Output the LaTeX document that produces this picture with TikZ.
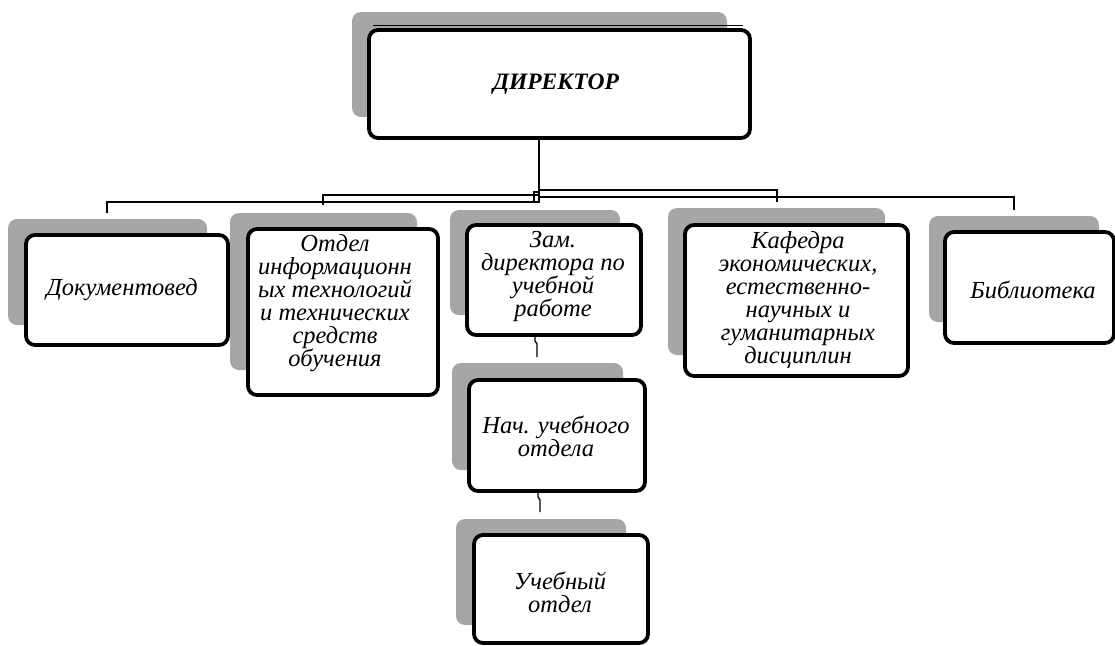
\documentclass[tikz,border=0pt]{standalone}
\usepackage{fontspec}
\setmainfont{Liberation Serif}
\definecolor{shade}{HTML}{A6A6A6}
\tikzset{
  shadowbox/.style={fill=shade, rounded corners=9pt},
  unitbox/.style={draw=black, line width=3.8pt, fill=white, rounded corners=9pt, inner sep=0pt},
  boxtext/.style={align=center, inner sep=0pt, font=\fontsize{24.5}{23}\selectfont\itshape},
  link/.style={draw=black, line width=1.3pt},
}
\begin{document}
\begin{tikzpicture}[x=1pt,y=-1pt]
\useasboundingbox (0,0) rectangle (1115,645);
% shadows
\fill[shadowbox] (352,12) rectangle (727,117);
\fill[shadowbox] (8,219) rectangle (207,325);
\fill[shadowbox] (230,213) rectangle (417,370);
\fill[shadowbox] (450,210) rectangle (620,315);
\fill[shadowbox] (668,208) rectangle (885,355);
\fill[shadowbox] (929,216) rectangle (1099,322);
\fill[shadowbox] (452,363) rectangle (623,470);
\fill[shadowbox] (456,519) rectangle (626,625);
\draw[line width=0.8pt] (373,25) -- (743,25);
% boxes
\node[unitbox, minimum width=381pt, minimum height=108pt] (dir) at (559.5,84) {};
\node[unitbox, minimum width=202pt, minimum height=110pt] (doc) at (127,290) {};
\node[unitbox, minimum width=190pt, minimum height=166pt] (otd) at (343,312) {};
\node[unitbox, minimum width=174pt, minimum height=110pt] (zam) at (554,280) {};
\node[unitbox, minimum width=223pt, minimum height=151pt] (kaf) at (796.5,300.5) {};
\node[unitbox, minimum width=169pt, minimum height=111pt] (bib) at (1029.5,287.5) {};
\node[unitbox, minimum width=176pt, minimum height=111pt] (nach) at (557,435.5) {};
\node[unitbox, minimum width=174pt, minimum height=108pt] (ucheb) at (561,589) {};
% texts
\node[boxtext, font=\fontsize{23.5}{23}\selectfont\bfseries\itshape] (tdir) at (556,84) {ДИРЕКТОР};
\node[boxtext] (tdoc) at (122,290) {Документовед};
\node[boxtext] (totd) at (335,303) {Отдел\\информационн\\ых технологий\\и технических\\средств\\обучения};
\node[boxtext] (tzam) at (553,276) {Зам.\\директора по\\учебной\\работе};
\node[boxtext] (tkaf) at (798,300) {Кафедра\\экономических,\\естественно-\\научных и\\гуманитарных\\дисциплин};
\node[boxtext] (tbib) at (1033,290) {Библиотека};
\node[boxtext] (tnach) at (556,436) {Нач. учебного\\отдела};
\node[boxtext] (tucheb) at (560,592) {Учебный\\отдел};
% connector end points
\coordinate (trunk) at (539,0);
\coordinate (docin) at (107,213);
\coordinate (otdin) at (323,205);
\coordinate (zamin) at (534,203);
\coordinate (kafin) at (777,202);
\coordinate (bibin) at (1014,210);
\coordinate (nachin) at (537,357);
\coordinate (uchin) at (540,512);
% connectors
\draw[link] (trunk |- dir.south) -- ++(0,62) -| (docin);
\draw[link] (trunk |- dir.south) -- ++(0,55) -| (otdin);
\draw[link] (trunk |- dir.south) -- ++(0,52) -| (zamin);
\draw[link] (trunk |- dir.south) -- ++(0,50) -| (kafin);
\draw[link] (trunk |- dir.south) -- ++(0,57) -| (bibin);
\draw[link] ([xshift=-2pt]nachin |- zam.south) -- ++(0,4) -- ++(2,3) -- (nachin);
\draw[link] ([xshift=-2pt]uchin |- nach.south) -- ++(0,4) -- ++(2,3) -- (uchin);
\end{tikzpicture}
\end{document}
